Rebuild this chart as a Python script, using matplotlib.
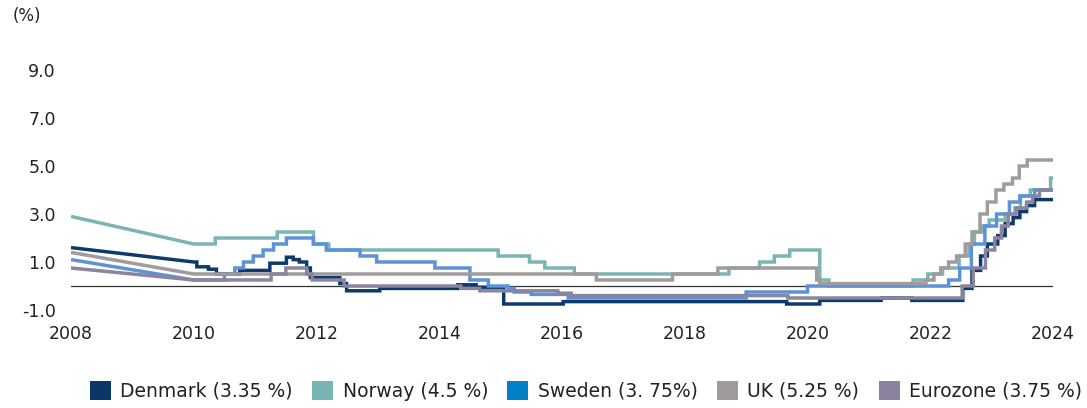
import matplotlib
matplotlib.use("Agg")
import matplotlib.pyplot as plt
from matplotlib.patches import Patch

# ---------------- data (change points: decimal year, policy rate %) ----------------
END_YEAR = 2024.0

dk_t = [2008.0, 2010.0, 2010.05, 2010.24, 2010.37, 2010.75, 2011.24, 2011.51, 2011.62, 2011.72,
        2011.84, 2011.9, 2012.38, 2012.49, 2013.03, 2014.3, 2014.6, 2015.05, 2016.02, 2019.66,
        2020.2, 2021.2, 2021.7, 2022.53, 2022.68, 2022.82, 2022.93, 2023.1, 2023.22, 2023.35,
        2023.46, 2023.57, 2023.7]
dk_v = [1.6, 1.0, 0.8, 0.7, 0.5, 0.65, 0.95, 1.2, 1.1, 1.0,
        0.75, 0.35, 0.1, -0.2, -0.1, 0.05, -0.05, -0.75, -0.65, -0.75,
        -0.6, -0.5, -0.6, -0.1, 0.65, 1.25, 1.75, 2.1, 2.6, 2.85,
        3.1, 3.35, 3.6]

no_t = [2008.0, 2010.0, 2010.35, 2011.36, 2011.95, 2012.2, 2014.96, 2015.47, 2015.72, 2016.2,
        2018.72, 2019.22, 2019.46, 2019.71, 2020.2, 2020.35, 2021.72, 2021.96, 2022.2, 2022.47,
        2022.63, 2022.72, 2022.85, 2022.96, 2023.22, 2023.38, 2023.47, 2023.63, 2023.96]
no_v = [2.9, 1.75, 2.0, 2.25, 1.75, 1.5, 1.25, 1.0, 0.75, 0.5,
        0.75, 1.0, 1.25, 1.5, 0.25, 0.0, 0.25, 0.5, 0.75, 1.25,
        1.75, 2.25, 2.5, 2.75, 3.0, 3.25, 3.75, 4.0, 4.5]

se_t = [2008.0, 2010.0, 2010.5, 2010.67, 2010.81, 2010.97, 2011.13, 2011.3, 2011.51, 2011.95,
        2012.16, 2012.71, 2012.98, 2013.93, 2014.5, 2014.8, 2015.12, 2015.22, 2015.5, 2016.1,
        2019.0, 2020.0, 2022.3, 2022.48, 2022.67, 2022.89, 2023.08, 2023.29, 2023.46, 2023.7]
se_v = [1.1, 0.25, 0.5, 0.75, 1.0, 1.25, 1.5, 1.75, 2.0, 1.75,
        1.5, 1.25, 1.0, 0.75, 0.25, 0.0, -0.1, -0.25, -0.35, -0.5,
        -0.25, 0.0, 0.25, 0.75, 1.75, 2.5, 3.0, 3.5, 3.75, 4.0]

uk_t = [2008.0, 2010.0, 2016.56, 2017.8, 2018.54, 2020.15, 2020.2, 2021.93, 2022.06, 2022.17,
        2022.3, 2022.43, 2022.57, 2022.68, 2022.81, 2022.93, 2023.07, 2023.2, 2023.34, 2023.45,
        2023.58]
uk_v = [1.4, 0.5, 0.25, 0.5, 0.75, 0.25, 0.1, 0.25, 0.5, 0.75,
        1.0, 1.25, 1.75, 2.25, 3.0, 3.5, 4.0, 4.25, 4.5, 5.0,
        5.25]

ez_t = [2008.0, 2010.0, 2011.26, 2011.5, 2011.84, 2011.93, 2012.45, 2014.35, 2014.66, 2015.93,
        2016.15, 2019.68, 2022.52, 2022.7, 2022.9, 2023.05, 2023.16, 2023.27, 2023.4, 2023.57,
        2023.67, 2023.78]
ez_v = [0.75, 0.25, 0.5, 0.75, 0.5, 0.25, 0.0, -0.1, -0.2, -0.3,
        -0.4, -0.5, 0.0, 0.75, 1.5, 2.0, 2.5, 3.0, 3.25, 3.5,
        3.75, 4.0]

labels = ["Denmark (3.35 %)", "Norway (4.5 %)", "Sweden (3. 75%)", "UK (5.25 %)", "Eurozone (3.75 %)"]
line_colors = ["#0b3a6b", "#7ab4b4", "#5b92d9", "#a19b9b", "#8b849f"]
patch_colors = ["#0a3766", "#7ab3b3", "#0080c8", "#a09a9a", "#8a82a0"]

x_ticks = [2008, 2010, 2012, 2014, 2016, 2018, 2020, 2022, 2024]
y_ticks = [-1.0, 1.0, 3.0, 5.0, 7.0, 9.0]


def build(t, v, end=END_YEAR):
    """First segment is a straight (interpolated) line, then step-after changes."""
    xs = [t[0], t[1]]
    ys = [v[0], v[1]]
    for ti, vi in zip(t[2:], v[2:]):
        xs += [ti, ti]
        ys += [ys[-1], vi]
    xs.append(end)
    ys.append(ys[-1])
    return xs, ys


plt.rcParams['font.family'] = ['DejaVu Sans']
W, H = 1087, 408
fig = plt.figure(figsize=(W / 100, H / 100), dpi=100)
fig.patch.set_facecolor("white")

left, right, top, bottom = 71, 1053, 46, 310
ax = fig.add_axes([left / W, 1 - bottom / H, (right - left) / W, (bottom - top) / H])
ax.set_xlim(2008, 2024)
ax.set_ylim(-1, 10)

ax.axhline(0, color="#333333", lw=0.9, zorder=1)

series = [(dk_t, dk_v), (no_t, no_v), (se_t, se_v), (uk_t, uk_v), (ez_t, ez_v)]
for i, ((t, v), c) in enumerate(zip(series, line_colors)):
    xs, ys = build(t, v)
    ax.plot(xs, ys, color=c, lw=2.5, zorder=2 + i, solid_joinstyle="miter", solid_capstyle="butt")

for s in ax.spines.values():
    s.set_visible(False)
ax.set_xticks(x_ticks)
ax.set_xticklabels([str(x) for x in x_ticks])
ax.set_yticks(y_ticks)
ax.set_yticklabels([f"{y:.1f}" for y in y_ticks])
ax.tick_params(axis="both", length=0, labelsize=12.5, colors="#222222")
ax.tick_params(axis="y", pad=11)
ax.tick_params(axis="x", pad=11)

fig.text(13 / W, 1 - 16 / H, "(%)", ha="left", va="center", fontsize=12, color="#222222")

handles = [Patch(facecolor=c, edgecolor="none") for c in patch_colors]
fs = 13.5
fig.legend(handles, labels, loc="center left", bbox_to_anchor=(90 / W, 1 - 391 / H),
           ncol=5, frameon=False, fontsize=fs, borderpad=0, borderaxespad=0,
           handlelength=1.12, handleheight=1.17, handletextpad=0.5, columnspacing=1.03,
           labelcolor="#222222")

fig.savefig("out.png", dpi=100, facecolor="white")
